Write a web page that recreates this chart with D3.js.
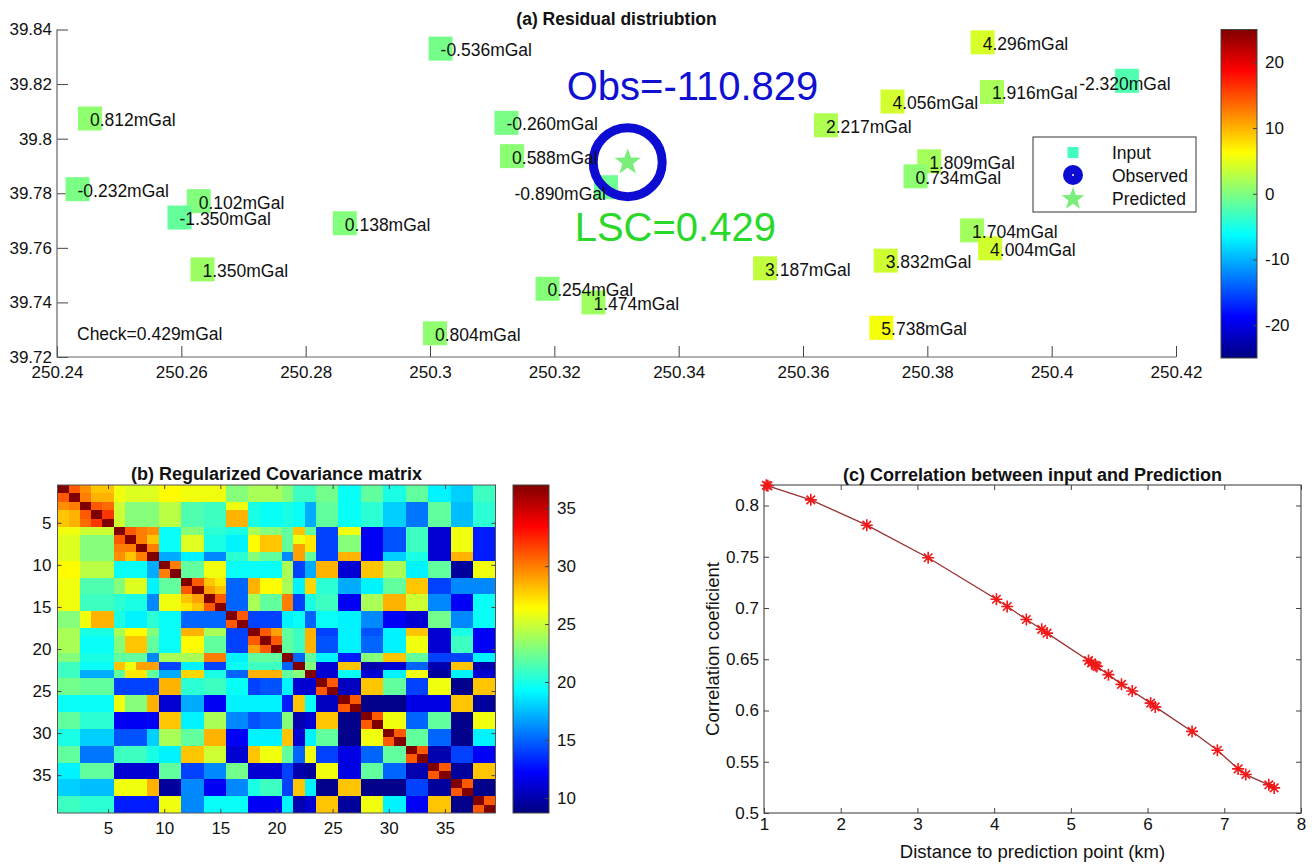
<!DOCTYPE html>
<html>
<head>
<meta charset="utf-8">
<script src="https://cdn.jsdelivr.net/npm/d3@7"></script>
<style>
body { margin: 0; background: #fff; }
svg text { font-family: "Liberation Sans", Arial, Helvetica, sans-serif; fill: #111; }
</style>
</head>
<body>
<svg width="1312" height="866"></svg>
<script>
/**
 * Data
 */
// (a) residuals at the input points
var pointLon = [250.2453, 250.2433, 250.2628, 250.2597, 250.2863, 250.2634, 250.3017, 250.3008, 250.3123,
    250.3132, 250.3283, 250.3189, 250.3263, 250.3539, 250.3637, 250.3744, 250.3889, 250.3904, 250.4121,
    250.3803, 250.3781, 250.3872, 250.3901, 250.3733, 250.3726];
var pointLat = [39.8074, 39.7815, 39.7771, 39.7711, 39.7690, 39.7521, 39.8330, 39.7287, 39.8058,
    39.7936, 39.7822, 39.7450, 39.7400, 39.7525, 39.8049, 39.8136, 39.8353, 39.8171, 39.8212,
    39.7917, 39.7862, 39.7664, 39.7598, 39.7553, 39.7307];
var residual = [0.812, -0.232, 0.102, -1.350, 0.138, 1.350, -0.536, 0.804, -0.260,
    0.588, -0.890, 0.254, 1.474, 3.187, 2.217, 4.056, 4.296, 1.916, -2.320,
    1.809, 0.734, 1.704, 4.004, 3.832, 5.738];
var predLon = 250.3318;
var predLat = 39.7914;
var obsValue = -110.829;
var lscValue = 0.429;
var checkValue = 0.429;
var residualRange = [-25, 25];
var lonTicks = [250.24, 250.26, 250.28, 250.30, 250.32, 250.34, 250.36, 250.38, 250.40, 250.42];
var latTicks = [39.72, 39.74, 39.76, 39.78, 39.80, 39.82, 39.84];
var residualTicks = [-20, -10, 0, 10, 20];
var legendNames = ['Input', 'Observed', 'Predicted'];

// (b) regularized covariance matrix, 39 x 39
var covMatrix = [
[37,31,29.5,28,28,26,25.5,25.5,25.5,26.5,26.5,26,26,26,26,23,23,24,24,24,23,21,21,22.5,22.5,19.5,19.5,22,22,20,20,22,22,19,19,18,18,21,21],
[31,37,30,28.5,28.5,26,25.5,25.5,25.5,26.5,26.5,26,26,26,26,23,23,24,24,24,23,21,21,22.5,22.5,19.5,19.5,22,22,20,20,22,22,19,19,18,18,21,21],
[29.5,30,37,31,30.5,25,23,23,23,24.5,24.5,21.5,21.5,21,21,26,26,20,19.5,19.5,20,19.5,17,22,22,19.5,19.5,20.5,20.5,18,18,15.5,15.5,22,22,17.5,17.5,20.5,20.5],
[28,28.5,31,37,32,25,23,23,23,24.5,24.5,21.5,21.5,21,21,28.5,28.5,20,19.5,19.5,20,19.5,17,22,22,19.5,19.5,20.5,20.5,18,18,15.5,15.5,22,22,17.5,17.5,20.5,20.5],
[28,28.5,30.5,32,37,25,23,23,23,24.5,24.5,21.5,21.5,21,21,28.5,28.5,20,19.5,19.5,20,19.5,17,22,22,19.5,19.5,20.5,20.5,18,18,15.5,15.5,22,22,17.5,17.5,20.5,20.5],
[26,26,25,25,25,37,31,30,29.5,19.5,19.5,23,23,20.5,20.5,20,20,24,23,23,22,28,22,14,14,26,26,12,12,14.5,14.5,21,21,11,11,26,26,13,13],
[25.5,25.5,23,23,23,31,37,30,28,19.5,19.5,25.5,25.5,20,20,19,19,26.5,28,28,22,26,27,14,14,23,23,12,12,14.5,14.5,21,21,11,11,26,26,13,13],
[25.5,25.5,23,23,23,30,30,37,30,19.5,19.5,25.5,25.5,20,20,19,19,26.5,28,28,22,29,27,14,14,23,23,12,12,14.5,14.5,21,21,11,11,26,26,13,13],
[25.5,25.5,23,23,23,29.5,28,30,37,17,17,19,19,16,16,20.5,20.5,23,22,22,16,29,22,14,14,28.5,28.5,12,12,18,18,20,20,11,11,28.5,28.5,13,13],
[26.5,26.5,24.5,24.5,24.5,19.5,19.5,19.5,17,37,30,22,22,26,26,19.5,19.5,19.5,19.5,19.5,24,14,17,28.5,28.5,11,11,28,28,24,24,19,19,22,22,9.5,9.5,26,26],
[26.5,26.5,24.5,24.5,24.5,19.5,19.5,19.5,17,30,37,22,22,26,26,19.5,19.5,19.5,19.5,19.5,24,14,17,28.5,28.5,11,11,28,28,24,24,19,19,22,22,9.5,9.5,26,26],
[26,26,21.5,21.5,21.5,23,25.5,25.5,19,22,22,37,31,28,27,15,15,28.5,26.5,26.5,24,19,27.5,20.5,20.5,17,17,19,19,22,22,28,28,14,14,16,16,16,16],
[26,26,21.5,21.5,21.5,23,25.5,25.5,19,22,22,31,37,29,28,15,15,28.5,26.5,26.5,24,19,27.5,20.5,20.5,17,17,19,19,22,22,28,28,14,14,16,16,16,16],
[26,26,21,21,21,20.5,20,20,16,26,26,28,29,37,31,15,15,24,22,22,30,14,20,21,21,12,12,24,24,28.5,28.5,25,25,16,16,12,12,19.5,19.5],
[26,26,21,21,21,20.5,20,20,16,26,26,27,28,31,37,15,15,24,22,22,30,14,20,21,21,12,12,24,24,28.5,28.5,25,25,16,16,12,12,19.5,19.5],
[23,23,26,28.5,28.5,20,19,19,20.5,19.5,19.5,15,15,15,15,37,31,14,14,14,19,19.5,15,19.5,19.5,19,19,16,16,12,12,11,11,22.5,22.5,16,16,19.5,19.5],
[23,23,26,28.5,28.5,20,19,19,20.5,19.5,19.5,15,15,15,15,31,37,14,14,14,19,19.5,15,19.5,19.5,19,19,16,16,12,12,11,11,22.5,22.5,16,16,19.5,19.5],
[24,24,20,20,20,24,26.5,26.5,23,19.5,19.5,28.5,28.5,24,24,14,14,37,31,29,22,21,28.5,14,14,19,19,14.5,14.5,19,19,28,28,11,11,20,20,12,12],
[24,24,19.5,19.5,19.5,23,28,28,22,19.5,19.5,26.5,26.5,22,22,14,14,31,37,31,22,21,28.5,14.5,14.5,19,19,15,15,19,19,26,26,11,11,21,21,12,12],
[24,24,19.5,19.5,19.5,23,28,28,22,19.5,19.5,26.5,26.5,22,22,14,14,29,31,37,22,21,28.5,14.5,14.5,19,19,15,15,19,19,26,26,11,11,21,21,12,12],
[23,23,20,20,20,22,22,22,16,24,24,24,24,30,30,19,19,22,22,22,37,15,22,19,19,13,13,23,23,28,28,22,22,14,14,14,14,19,19],
[21,21,19.5,19.5,19.5,28,26,29,29,14,14,19,19,14,14,19.5,19.5,21,21,21,15,37,23,11,11,28,28,10,10,11,11,15,15,10,10,28,28,10,10],
[21,21,17,17,17,22,27,27,22,17,17,27.5,27.5,20,20,15,15,28.5,28.5,28.5,22,23,37,11,11,19.5,19.5,11,11,19,19,26,26,9.5,9.5,19,19,11,11],
[22.5,22.5,22,22,22,14,14,14,14,28.5,28.5,20.5,20.5,21,21,19.5,19.5,14,14.5,14.5,19,11,11,37,31,10.5,10.5,28,28,22,22,14,14,26,26,9,9,28,28],
[22.5,22.5,22,22,22,14,14,14,14,28.5,28.5,20.5,20.5,21,21,19.5,19.5,14,14.5,14.5,19,11,11,31,37,10.5,10.5,28,28,22,22,14,14,26,26,9,9,28,28],
[19.5,19.5,19.5,19.5,19.5,26,23,23,28.5,11,11,17,17,12,12,19,19,19,19,19,13,28,19.5,10.5,10.5,37,31,9,9,9,9,11.5,11.5,11.5,11.5,28,28,9.5,9.5],
[19.5,19.5,19.5,19.5,19.5,26,23,23,28.5,11,11,17,17,12,12,19,19,19,19,19,13,28,19.5,10.5,10.5,31,37,9,9,9,9,11.5,11.5,11.5,11.5,28,28,9.5,9.5],
[22,22,20.5,20.5,20.5,12,12,12,12,28,28,19,19,24,24,16,16,14.5,15,15,23,10,11,28,28,9,9,37,31,26,26,15,15,22,22,9,9,26,26],
[22,22,20.5,20.5,20.5,12,12,12,12,28,28,19,19,24,24,16,16,14.5,15,15,23,10,11,28,28,9,9,31,37,26,26,15,15,22,22,9,9,26,26],
[20,20,18,18,18,14.5,14.5,14.5,18,24,24,22,22,28.5,28.5,12,12,19,19,19,28,11,19,22,22,9,9,26,26,37,31,22,22,15,15,9,9,19,19],
[20,20,18,18,18,14.5,14.5,14.5,18,24,24,22,22,28.5,28.5,12,12,19,19,19,28,11,19,22,22,9,9,26,26,31,37,22,22,15,15,9,9,19,19],
[22,22,15.5,15.5,15.5,21,21,21,20,19,19,28,28,25,25,11,11,28,26,26,22,15,26,14,14,11.5,11.5,15,15,22,22,37,31,10,10,14,14,12,12],
[22,22,15.5,15.5,15.5,21,21,21,20,19,19,28,28,25,25,11,11,28,26,26,22,15,26,14,14,11.5,11.5,15,15,22,22,31,37,10,10,14,14,12,12],
[19,19,22,22,22,11,11,11,11,22,22,14,14,16,16,22.5,22.5,11,11,11,14,10,9.5,26,26,11.5,11.5,22,22,15,15,10,10,37,31,9.5,9.5,28,28],
[19,19,22,22,22,11,11,11,11,22,22,14,14,16,16,22.5,22.5,11,11,11,14,10,9.5,26,26,11.5,11.5,22,22,15,15,10,10,31,37,9.5,9.5,28,28],
[18,18,17.5,17.5,17.5,26,26,26,28.5,9.5,9.5,16,16,12,12,16,16,20,21,21,14,28,19,9,9,28,28,9,9,9,9,14,14,9.5,9.5,37,31,9,9],
[18,18,17.5,17.5,17.5,26,26,26,28.5,9.5,9.5,16,16,12,12,16,16,20,21,21,14,28,19,9,9,28,28,9,9,9,9,14,14,9.5,9.5,31,37,9,9],
[21,21,20.5,20.5,20.5,13,13,13,13,26,26,16,16,19.5,19.5,19.5,19.5,12,12,12,19,10,11,28,28,9.5,9.5,26,26,19,19,12,12,28,28,9,9,37,31],
[21,21,20.5,20.5,20.5,13,13,13,13,26,26,16,16,19.5,19.5,19.5,19.5,12,12,12,19,10,11,28,28,9.5,9.5,26,26,19,19,12,12,28,28,9,9,31,37]
];
var covRange = [8.7, 37];
var covTicks = [5, 10, 15, 20, 25, 30, 35];
var covColorTicks = [10, 15, 20, 25, 30, 35];

// (c) correlation between input points and prediction point
var distKm = [1.03, 1.05, 1.61, 2.34, 3.14, 4.03, 4.17, 4.42, 4.62, 4.69, 5.23, 5.27, 5.32, 5.34, 5.49,
    5.66, 5.80, 6.04, 6.10, 6.58, 6.91, 7.18, 7.28, 7.58, 7.65];
var corrCoef = [0.8198, 0.8192, 0.8055, 0.7808, 0.7490, 0.7085, 0.7015, 0.6888, 0.6792, 0.6755, 0.6487,
    0.6465, 0.6440, 0.6430, 0.6350, 0.6255, 0.6190, 0.6072, 0.6035, 0.5796, 0.5612, 0.5430, 0.5375,
    0.5275, 0.5245];
var distTicks = [1, 2, 3, 4, 5, 6, 7, 8];
var corrTicks = [0.5, 0.55, 0.6, 0.65, 0.7, 0.75, 0.8];
var corrTop = 0.82;

/**
 * Helpers
 */
var svg = d3.select('svg');
var defs = svg.append('defs');
var axisColor = '#444';

// MATLAB jet colormap as a d3 linear scale
var jetStops = [0, 0.125, 0.375, 0.625, 0.875, 1];
var jetColors = ['#000080', '#0000ff', '#00ffff', '#ffff00', '#ff0000', '#800000'];
function jetScale(range) {
    return d3.scaleLinear()
        .domain(jetStops.map(function(s) { return range[0] + s * (range[1] - range[0]); }))
        .range(jetColors)
        .clamp(true);
}

// MATLAB style numbers: no trailing zeros, plain hyphen for minus
function fmt(d) { return String(+d.toFixed(2)); }

function styleAxis(g) {
    g.select('.domain').remove();
    g.selectAll('.tick line').attr('stroke', axisColor);
    g.selectAll('.tick text').attr('font-size', 17);
}

function noLabels(g) {
    g.select('.domain').remove();
    g.selectAll('.tick line').attr('stroke', axisColor);
    g.selectAll('.tick text').remove();
}

function colorbar(id, box, range, ticks) {
    var grad = defs.append('linearGradient').attr('id', id)
        .attr('x1', 0).attr('y1', 1).attr('x2', 0).attr('y2', 0);
    jetStops.forEach(function(s, i) {
        grad.append('stop').attr('offset', s).attr('stop-color', jetColors[i]);
    });
    svg.append('rect')
        .attr('x', box.l).attr('y', box.t)
        .attr('width', box.r - box.l).attr('height', box.b - box.t)
        .attr('fill', 'url(#' + id + ')')
        .attr('stroke', axisColor).attr('stroke-width', 1);
    var s = d3.scaleLinear().domain(range).range([box.b, box.t]);
    svg.append('g')
        .attr('transform', 'translate(' + box.r + ',0)')
        .call(d3.axisRight(s).tickValues(ticks).tickSizeInner(-4).tickSizeOuter(0).tickPadding(8).tickFormat(fmt))
        .call(styleAxis);
}

function starPath(r) {
    var pts = [];
    for (var k = 0; k < 10; k++) {
        var rad = k % 2 === 0 ? r : r * 0.4;
        var a = -Math.PI / 2 + k * Math.PI / 5;
        pts.push([rad * Math.cos(a), rad * Math.sin(a)]);
    }
    return 'M' + pts.join('L') + 'Z';
}

function asteriskPath(r) {
    var d = '';
    for (var k = 0; k < 4; k++) {
        var a = k * Math.PI / 4;
        var dx = r * Math.cos(a), dy = r * Math.sin(a);
        d += 'M' + (-dx) + ',' + (-dy) + 'L' + dx + ',' + dy;
    }
    return d;
}

/**
 * (a) Residual distribution
 */
var aBox = {l: 57, r: 1176, t: 29.5, b: 357};
var xA = d3.scaleLinear().domain([lonTicks[0], lonTicks[lonTicks.length - 1]]).range([aBox.l, aBox.r]);
var yA = d3.scaleLinear().domain([latTicks[0], latTicks[latTicks.length - 1]]).range([aBox.b, aBox.t]);
var colorA = jetScale(residualRange);
var gA = svg.append('g');

gA.append('g')
    .attr('transform', 'translate(0,' + aBox.b + ')')
    .call(d3.axisBottom(xA).tickValues(lonTicks).tickSizeInner(-11).tickSizeOuter(0).tickPadding(9).tickFormat(fmt))
    .call(styleAxis);
gA.append('g')
    .attr('transform', 'translate(' + aBox.l + ',0)')
    .call(d3.axisLeft(yA).tickValues(latTicks).tickSizeInner(-11).tickSizeOuter(0).tickPadding(5).tickFormat(fmt))
    .call(styleAxis);
gA.append('path')
    .attr('d', 'M' + aBox.l + ',' + aBox.t + 'V' + aBox.b + 'H' + aBox.r)
    .attr('fill', 'none').attr('stroke', '#666').attr('stroke-width', 1.2);

gA.append('text')
    .attr('x', (aBox.l + aBox.r) / 2).attr('y', 25)
    .attr('text-anchor', 'middle').attr('font-size', 17.5).attr('font-weight', 'bold')
    .text('(a) Residual distriubtion');

var points = residual.map(function(v, i) {
    return {lon: pointLon[i], lat: pointLat[i], value: v};
});
var sq = 24;
gA.selectAll('.input').data(points).enter()
    .append('rect').attr('class', 'input')
    .attr('x', function(d) { return xA(d.lon) - sq / 2; })
    .attr('y', function(d) { return yA(d.lat) - sq / 2; })
    .attr('width', sq).attr('height', sq)
    .attr('fill', function(d) { return colorA(d.value); });

var px0 = xA(predLon), py0 = yA(predLat);

// observed / predicted marker (open ring, star on top)
gA.append('circle')
    .attr('cx', px0).attr('cy', py0).attr('r', 34.5)
    .attr('fill', 'none').attr('stroke', '#0c0cd2').attr('stroke-width', 9);
gA.append('path')
    .attr('transform', 'translate(' + px0 + ',' + py0 + ')')
    .attr('d', starPath(14)).attr('fill', '#7aee7a');

gA.selectAll('.lbl').data(points).enter()
    .append('text').attr('class', 'lbl')
    .attr('font-size', 17.5)
    .each(function(d) {
        var x = xA(d.lon), y = yA(d.lat);
        var anchor = 'start', dy = 7.5;
        // labels that would run into the ring or past the right edge are shifted
        if (Math.hypot(x - px0, y - py0) < 40) { anchor = 'end'; dy = 13; }
        else if (x + 92 > aBox.r) { anchor = 'middle'; x -= 2; dy = 9; }
        d3.select(this).attr('x', x).attr('y', y + dy).attr('text-anchor', anchor);
    })
    .text(function(d) { return d.value.toFixed(3) + 'mGal'; });

gA.append('text')
    .attr('x', aBox.l + 20).attr('y', aBox.b - 17.5)
    .attr('font-size', 17.5)
    .text('Check=' + checkValue.toFixed(3) + 'mGal');

gA.append('text')
    .attr('x', px0 - 61).attr('y', py0 - 62)
    .attr('font-size', 40).style('fill', '#1010d0')
    .text('Obs=' + obsValue.toFixed(3));
gA.append('text')
    .attr('x', px0 - 53).attr('y', py0 + 78.5)
    .attr('font-size', 40).style('fill', '#2ad82a')
    .text('LSC=' + lscValue.toFixed(3));

// legend
var lg = gA.append('g').attr('transform', 'translate(1033,137)');
lg.append('rect').attr('width', 163).attr('height', 75)
    .attr('fill', '#fff').attr('stroke', '#333').attr('stroke-width', 1);
lg.append('rect').attr('x', 40 - 5.5).attr('y', 15.5 - 5.5).attr('width', 11).attr('height', 11)
    .attr('fill', colorA(-3));
lg.append('circle').attr('cx', 40).attr('cy', 38).attr('r', 5.5)
    .attr('fill', 'none').attr('stroke', '#0c0cd2').attr('stroke-width', 9);
lg.append('path').attr('transform', 'translate(40,62)').attr('d', starPath(12)).attr('fill', '#7aee7a');
lg.selectAll('.lgt').data(legendNames).enter()
    .append('text').attr('class', 'lgt')
    .attr('x', 79).attr('y', function(d, i) { return 22 + i * 23; })
    .attr('font-size', 17.5)
    .text(function(d) { return d; });

colorbar('jetA', {l: 1221, r: 1257, t: 29.5, b: 358}, residualRange, residualTicks);

/**
 * (b) Regularized covariance matrix
 */
var bBox = {l: 57.5, r: 495.5, t: 485, b: 813};
var nCov = covMatrix.length;
var xB = d3.scaleLinear().domain([0.5, nCov + 0.5]).range([bBox.l, bBox.r]);
var yB = d3.scaleLinear().domain([0.5, nCov + 0.5]).range([bBox.t, bBox.b]);
var colorB = jetScale(covRange);
var gB = svg.append('g');

var cells = [];
covMatrix.forEach(function(row, i) {
    row.forEach(function(v, j) { cells.push({r: i + 1, c: j + 1, v: v}); });
});
gB.selectAll('.cell').data(cells).enter()
    .append('rect').attr('class', 'cell')
    .attr('x', function(d) { return xB(d.c - 0.5); })
    .attr('y', function(d) { return yB(d.r - 0.5); })
    .attr('width', xB(1.5) - xB(0.5) + 0.4)
    .attr('height', yB(1.5) - yB(0.5) + 0.4)
    .attr('fill', function(d) { return colorB(d.v); })
    .attr('shape-rendering', 'crispEdges');

gB.append('rect')
    .attr('x', bBox.l).attr('y', bBox.t)
    .attr('width', bBox.r - bBox.l).attr('height', bBox.b - bBox.t)
    .attr('fill', 'none').attr('stroke', '#555').attr('stroke-width', 1);
gB.append('g').attr('transform', 'translate(0,' + bBox.b + ')')
    .call(d3.axisBottom(xB).tickValues(covTicks).tickSizeInner(-4).tickSizeOuter(0).tickPadding(9))
    .call(styleAxis);
gB.append('g').attr('transform', 'translate(' + bBox.l + ',0)')
    .call(d3.axisLeft(yB).tickValues(covTicks).tickSizeInner(-4).tickSizeOuter(0).tickPadding(6))
    .call(styleAxis);
gB.append('g').attr('transform', 'translate(0,' + bBox.t + ')')
    .call(d3.axisTop(xB).tickValues(covTicks).tickSizeInner(-4).tickSizeOuter(0))
    .call(noLabels);
gB.append('g').attr('transform', 'translate(' + bBox.r + ',0)')
    .call(d3.axisRight(yB).tickValues(covTicks).tickSizeInner(-4).tickSizeOuter(0))
    .call(noLabels);

gB.append('text')
    .attr('x', (bBox.l + bBox.r) / 2).attr('y', 480)
    .attr('text-anchor', 'middle').attr('font-size', 18).attr('font-weight', 'bold')
    .text('(b) Regularized Covariance matrix');

colorbar('jetB', {l: 513, r: 549, t: 485, b: 813}, covRange, covColorTicks);

/**
 * (c) Correlation between input and prediction
 */
var cBox = {l: 764, r: 1301, t: 485, b: 813};
var xC = d3.scaleLinear().domain([distTicks[0], distTicks[distTicks.length - 1]]).range([cBox.l, cBox.r]);
var yC = d3.scaleLinear().domain([corrTicks[0], corrTop]).range([cBox.b, cBox.t]);
var gC = svg.append('g');

gC.append('rect')
    .attr('x', cBox.l).attr('y', cBox.t)
    .attr('width', cBox.r - cBox.l).attr('height', cBox.b - cBox.t)
    .attr('fill', 'none').attr('stroke', '#555').attr('stroke-width', 1.2);
gC.append('g').attr('transform', 'translate(0,' + cBox.b + ')')
    .call(d3.axisBottom(xC).tickValues(distTicks).tickSizeInner(-5).tickSizeOuter(0).tickPadding(5).tickFormat(fmt))
    .call(styleAxis);
gC.append('g').attr('transform', 'translate(' + cBox.l + ',0)')
    .call(d3.axisLeft(yC).tickValues(corrTicks).tickSizeInner(-5).tickSizeOuter(0).tickPadding(5).tickFormat(fmt))
    .call(styleAxis);
gC.append('g').attr('transform', 'translate(0,' + cBox.t + ')')
    .call(d3.axisTop(xC).tickValues(distTicks).tickSizeInner(-5).tickSizeOuter(0))
    .call(noLabels);
gC.append('g').attr('transform', 'translate(' + cBox.r + ',0)')
    .call(d3.axisRight(yC).tickValues(corrTicks).tickSizeInner(-5).tickSizeOuter(0))
    .call(noLabels);

var corr = distKm.map(function(d, i) { return {d: d, c: corrCoef[i]}; });
gC.append('path')
    .datum(corr)
    .attr('d', d3.line().x(function(p) { return xC(p.d); }).y(function(p) { return yC(p.c); }))
    .attr('fill', 'none').attr('stroke', '#9a3030').attr('stroke-width', 1.3);
gC.selectAll('.star').data(corr).enter()
    .append('path').attr('class', 'star')
    .attr('transform', function(p) { return 'translate(' + xC(p.d) + ',' + yC(p.c) + ')'; })
    .attr('d', asteriskPath(6))
    .attr('stroke', '#f01818').attr('stroke-width', 1.6).attr('fill', 'none');

gC.append('text')
    .attr('x', (cBox.l + cBox.r) / 2).attr('y', 481)
    .attr('text-anchor', 'middle').attr('font-size', 18).attr('font-weight', 'bold')
    .text('(c) Correlation between input and Prediction');
gC.append('text')
    .attr('x', (cBox.l + cBox.r) / 2).attr('y', 858)
    .attr('text-anchor', 'middle').attr('font-size', 18.5)
    .text('Distance to prediction point (km)');
gC.append('text')
    .attr('transform', 'translate(719,' + ((cBox.t + cBox.b) / 2) + ') rotate(-90)')
    .attr('text-anchor', 'middle').attr('font-size', 18.5)
    .text('Correlation coeficient');
</script>
</body>
</html>
